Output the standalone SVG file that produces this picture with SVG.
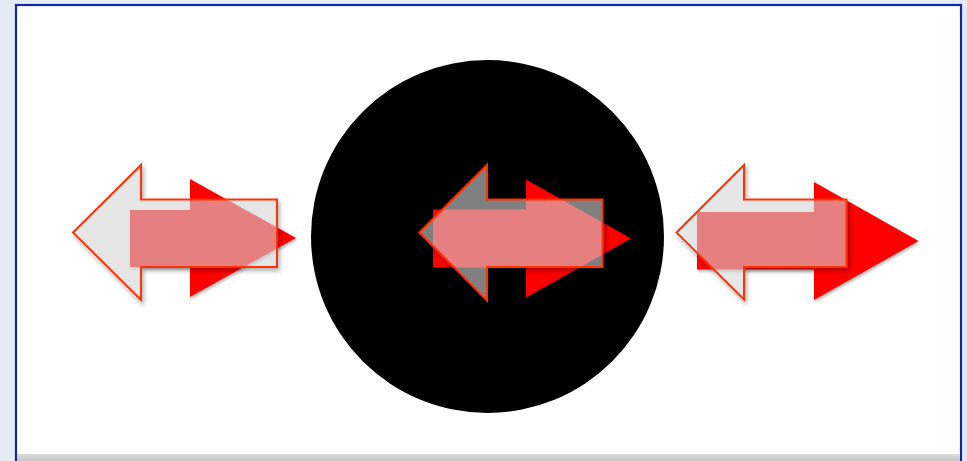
<svg xmlns="http://www.w3.org/2000/svg" width="967" height="461" viewBox="0 0 967 461">
  <defs>
    <filter id="redShadow" x="-20%" y="-20%" width="140%" height="140%">
      <feGaussianBlur in="SourceGraphic" stdDeviation="0.6" result="soft"/>
      <feDropShadow in="soft" dx="1" dy="2" stdDeviation="1.5" flood-color="#000" flood-opacity="0.3"/>
    </filter>
    <filter id="outerShadow" x="-20%" y="-20%" width="140%" height="140%">
      <feComponentTransfer in="SourceAlpha" result="a">
        <feFuncA type="linear" slope="20"/>
      </feComponentTransfer>
      <feGaussianBlur in="a" stdDeviation="2" result="b"/>
      <feOffset in="b" dx="2" dy="3" result="o"/>
      <feComposite in="o" in2="a" operator="out" result="s"/>
      <feFlood flood-color="#000" flood-opacity="0.3"/>
      <feComposite in2="s" operator="in" result="sh"/>
      <feMerge>
        <feMergeNode in="sh"/>
        <feMergeNode in="SourceGraphic"/>
      </feMerge>
    </filter>
    <linearGradient id="bar" x1="0" y1="0" x2="0" y2="1">
      <stop offset="0" stop-color="#dcdcdc"/>
      <stop offset="1" stop-color="#c4c4c4"/>
    </linearGradient>
  </defs>
  <style>
    .red { fill: #ff0000; filter: url(#redShadow); }
    .left { fill: #d5d5d5; fill-opacity: 0.6; stroke: #ff3000; stroke-width: 2; stroke-linejoin: miter; filter: url(#outerShadow); }
  </style>
  <rect x="0" y="0" width="967" height="461" fill="#e3eaf4"/>
  <rect x="16" y="5" width="945" height="470" fill="#ffffff" stroke="#1227a8" stroke-width="2.2"/>
  <rect x="17" y="454" width="943" height="7" fill="url(#bar)"/>

  <g id="circle">
    <circle cx="487.5" cy="236.5" r="176.5" fill="#000000"/>
  </g>

  <g id="pair-left">
    <polygon class="red" points="130,210 190,210 190,179 296,238 190,297 190,267 130,267"/>
    <polygon class="left" points="73,232.5 141,165 141,199.5 277,199.5 277,267 141,267 141,300"/>
  </g>

  <g id="pair-middle">
    <polygon class="red" points="433,209.5 526,209.5 526,179.5 631,238.5 526,297.5 526,267.5 433,267.5"/>
    <polygon class="left" points="419.5,232.5 487,165 487,199.5 602.5,199.5 602.5,267 487,267 487,300.5"/>
  </g>

  <g id="pair-right">
    <polygon class="red" points="697,212 814,212 814,182 918.5,241 814,300 814,269.5 697,269.5"/>
    <polygon class="left" points="676.5,232.5 744,165 744,199.5 846.5,199.5 846.5,267 744,267 744,299.5"/>
  </g>

  <g id="connectors"/>
</svg>
